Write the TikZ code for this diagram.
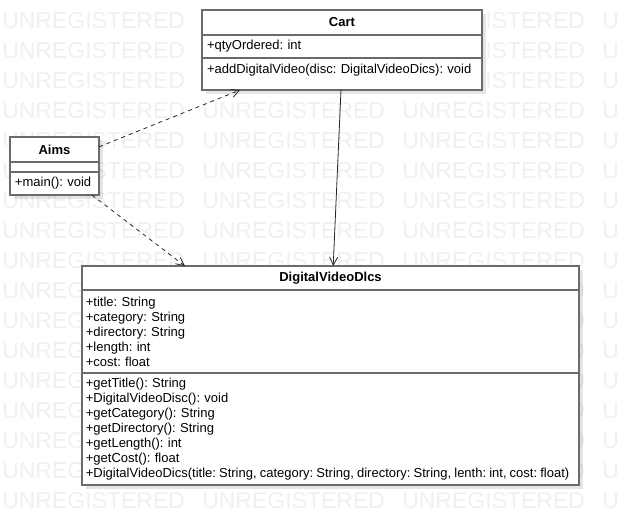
\documentclass[tikz,border=0pt]{standalone}
\usepackage{fontspec}
\setmainfont{Liberation Sans}
\usepackage{tikz}
\usetikzlibrary{arrows.meta, positioning, calc, shadows}
\frenchspacing

\begin{document}
\begin{tikzpicture}[
  x=0.75pt, y=-0.75pt,
  part/.style={rectangle, draw=black!58, line width=1.2pt, fill=white,
    outer sep=0pt, inner xsep=3.75pt, inner ysep=0pt, align=left,
    font=\fontsize{9.75}{11.25}\selectfont,
    drop shadow={shadow xshift=3pt, shadow yshift=-3pt, opacity=0.1, fill=black}},
  head/.style={part, align=center, minimum height=18.75pt,
    font=\fontsize{9.75}{11.25}\selectfont\bfseries},
  cartw/.style={text width=202.5pt},
  aimsw/.style={text width=59.25pt},
  dvdw/.style={text width=367pt, inner xsep=2.9pt},
  dep/.style={-{Straight Barb[length=6pt, width=6pt]}, dashed, line width=0.6pt, black!85},
  assoc/.style={-{Straight Barb[length=6pt, width=6pt]}, line width=0.6pt, black!85},
  wmark/.style={anchor=base west, inner sep=0pt, text=black!6,
    font=\fontsize{17.25}{17.25}\selectfont},
]
\useasboundingbox (0,0) rectangle (618,526);

% watermark
\foreach \r in {0,...,16}
  \foreach \c in {0,...,3}
    \node[wmark] (wm-\r-\c) at (2+\c*200, 28.5+\r*30) {UNREGISTERED};

% Cart
\node[head, cartw, anchor=north west] (cartHead) at (202,10) {Cart};
\node[part, cartw, minimum height=17.25pt, below=0pt of cartHead] (cartAttr) {+qtyOrdered: int};
\node[part, cartw, text height=11.25pt, text depth=12.75pt, below=0pt of cartAttr] (cartOps)
  {+addDigitalVideo(disc: DigitalVideoDics): void};

% Aims
\node[head, aimsw, anchor=north west] (aimsHead) at (10,137) {Aims};
\node[part, aimsw, minimum height=7.5pt, below=0pt of aimsHead] (aimsAttr) {};
\node[part, aimsw, minimum height=17.25pt, below=0pt of aimsAttr] (aimsOps) {+main(): void};

% DigitalVideoDlcs
\node[head, dvdw, minimum height=18pt, anchor=north west] (dvdHead) at (82,266) {DigitalVideoDlcs};
\node[part, dvdw, minimum height=62.25pt, below=0pt of dvdHead] (dvdAttr)
  {+title: String\\+category: String\\+directory: String\\+length: int\\+cost: float};
\node[part, dvdw, minimum height=84pt, below=0pt of dvdAttr] (dvdOps)
  {+getTitle(): String\\+DigitalVideoDisc(): void\\+getCategory(): String\\+getDirectory(): String\\
   +getLength(): int\\+getCost(): float\\
   \mbox{\spaceskip=0.24em\relax +DigitalVideoDics(title: String, category: String, directory: String, lenth: int, cost: float)}};

\draw[dep] ([yshift=2pt]aimsHead.east) -- ($(cartOps.south west)!0.136!(cartOps.south east)$);
\draw[dep] ($(aimsOps.south west)!0.92!(aimsOps.south east)$) -- ($(dvdHead.north west)!0.207!(dvdHead.north east)$);
\draw[assoc] ([xshift=-0.75pt]cartOps.south) -- ([xshift=2pt]dvdHead.north);
\end{tikzpicture}
\end{document}
